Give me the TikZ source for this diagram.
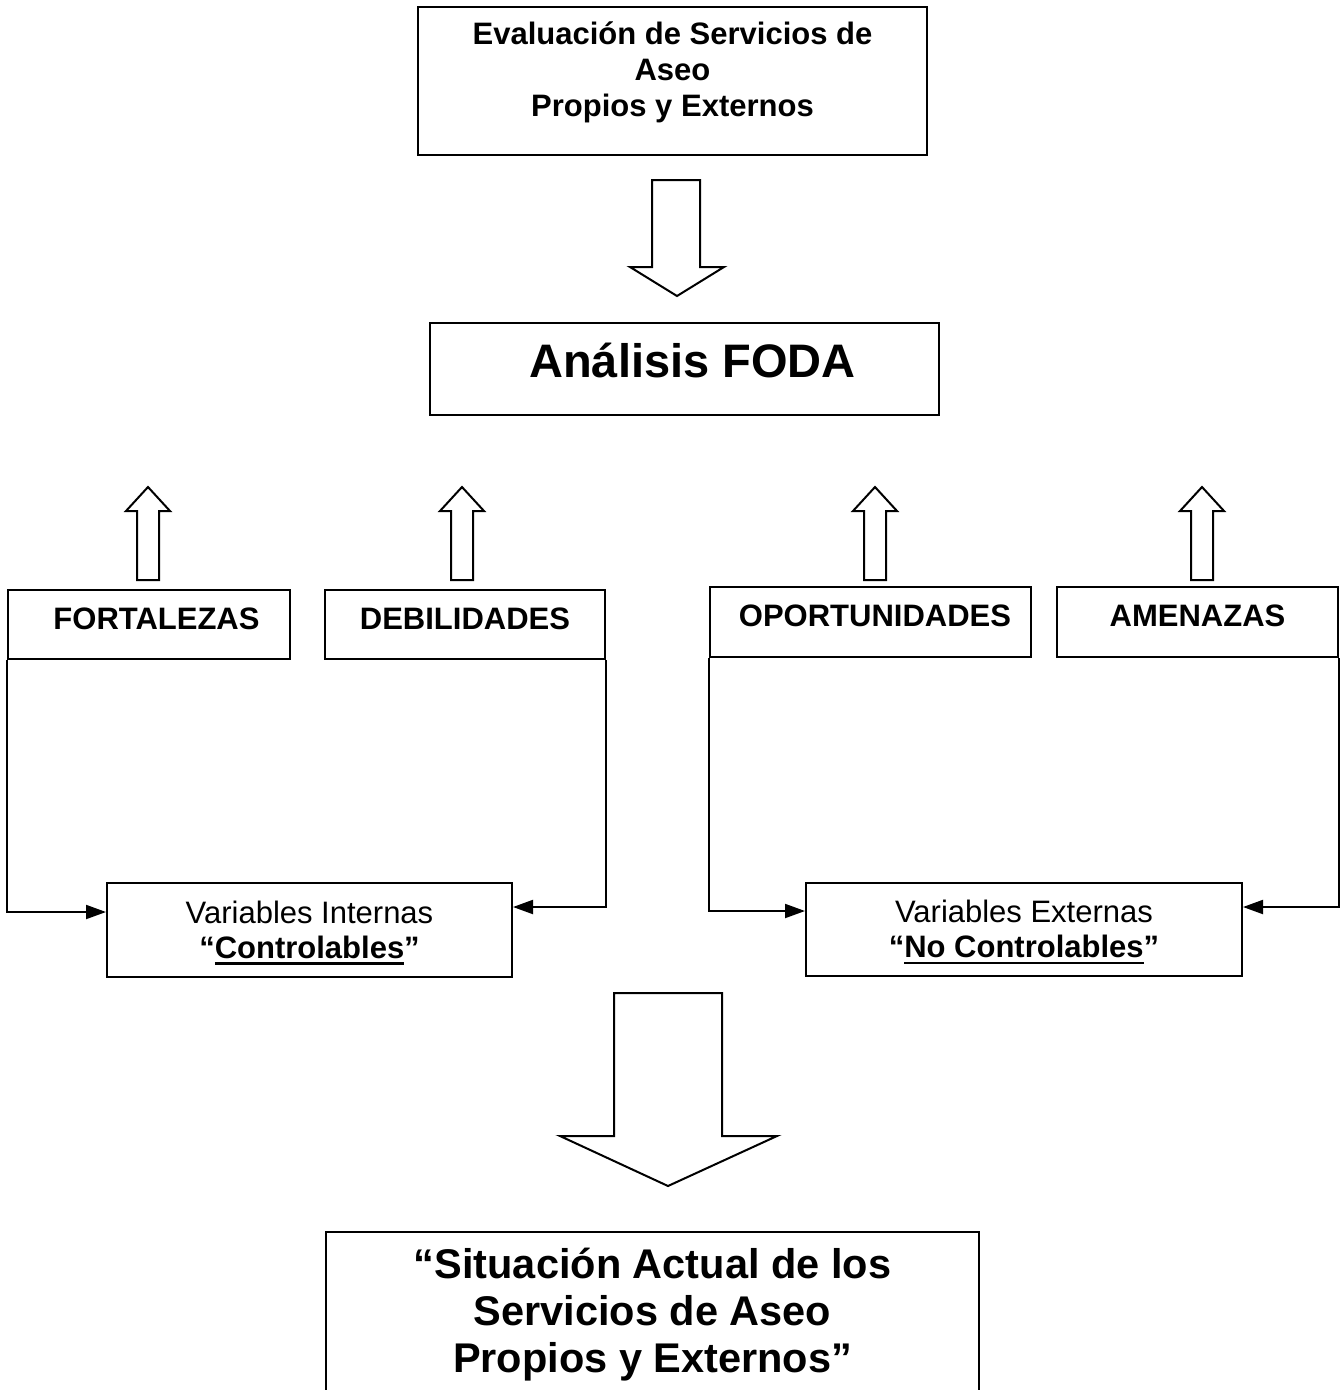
\documentclass[tikz,border=0pt]{standalone}
\usepackage{fontspec}
\setmainfont{Liberation Sans}
\usetikzlibrary{arrows.meta}
\newcommand{\ulbar}[1]{\leavevmode\setbox0\hbox{#1}\rlap{\vrule height -4pt depth 6.5pt width \wd0}\box0}

\begin{document}
\begin{tikzpicture}[x=1pt,y=-1pt]
  % styles
  \tikzset{
    box/.style={draw,line width=2pt,inner sep=0pt,align=center},
    lbl/.style={box,text height=22pt,text depth=12.5pt,font=\fontsize{31}{36}\selectfont\bfseries},
    varbox/.style={box,text depth=0.5pt,font=\fontsize{31}{35}\selectfont},
    hollow/.style={draw,line width=2pt,line join=miter},
    conn/.style={draw,line width=2pt,-{Triangle[length=20pt,width=14pt]}}
  }
  \useasboundingbox (0,0) rectangle (1344,1390);
  % boxes
  \node[box,minimum width=509pt,minimum height=148pt,text depth=22.8pt,
    font=\fontsize{31}{36}\selectfont\bfseries] (eval) at (672.5,81)
    {Evaluación de Servicios de\\Aseo\\Propios y Externos};
  \node[box,minimum width=509pt,minimum height=92pt,text height=34pt,text depth=18pt,
    font=\fontsize{47}{54}\selectfont\bfseries] (foda) at (684.5,369) {\hspace*{16pt}Análisis FODA};
  \node[lbl,minimum width=282pt,minimum height=69pt] (fort) at (149,624.5) {\hspace*{15pt}FORTALEZAS};
  \node[lbl,minimum width=280pt,minimum height=69pt] (deb) at (465,624.5) {DEBILIDADES};
  \node[lbl,minimum width=321pt,minimum height=70pt] (opor) at (870.5,622) {\hspace*{9pt}OPORTUNIDADES};
  \node[lbl,minimum width=281pt,minimum height=70pt] (amen) at (1197.5,622) {AMENAZAS};
  \node[varbox,minimum width=405pt,minimum height=94pt] (vint) at (309.5,930)
    {Variables Internas\\\textbf{“\ulbar{Controlables}”}};
  \node[varbox,minimum width=436pt,minimum height=93pt] (vext) at (1024,929.5)
    {Variables Externas\\\textbf{“\ulbar{No Controlables}”}};
  \node[align=center,inner sep=0pt,minimum width=653pt,minimum height=166pt,
    font=\fontsize{41.5}{47}\selectfont\bfseries] (sit) at (652.5,1315)
    {“Situación Actual de los\\Servicios de Aseo\\Propios y Externos”};
  \draw[line width=2pt] (sit.south west) -- (sit.north west) -- (sit.north east) -- (sit.south east);
  % hollow arrows
  \draw[hollow] (652,180) -- (700,180) -- (700,267) -- (724,267) -- (677,296) -- (630,267) -- (652,267) -- cycle;
  \foreach \ax in {148,462,875,1202}
    \draw[hollow] (\ax-11,580) -- (\ax-11,511) -- (\ax-22,511) -- (\ax,487) -- (\ax+22,511) -- (\ax+11,511) -- (\ax+11,580) -- cycle;
  \draw[hollow] (614,993) -- (722,993) -- (722,1136) -- (777,1136) -- (668,1186) -- (560,1136) -- (614,1136) -- cycle;
  % connectors
  \draw[conn] (fort.south west) |- ([yshift=18pt]vint.west);
  \draw[conn] (deb.south east) |- ([yshift=23pt]vint.east);
  \draw[conn] (opor.south west) |- ([yshift=18.5pt]vext.west);
  \draw[conn] (amen.south east) |- ([yshift=22.5pt]vext.east);
\end{tikzpicture}
\end{document}
